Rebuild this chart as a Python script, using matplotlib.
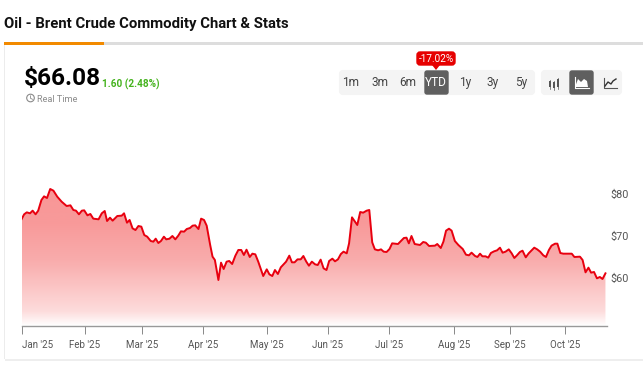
import numpy as np
import matplotlib.pyplot as plt
from matplotlib.colors import LinearSegmentedColormap
from matplotlib.patches import Circle, FancyBboxPatch, Polygon, Rectangle

plt.rcParams['font.family'] = ['Roboto', 'DejaVu Sans']

W, H = 643, 378

# sessions since 2 Jan and the close
sessions = [0, 0.9, 1.8, 2.9, 3.8, 4.8, 5.7, 6.8, 7.7, 8.7, 9.8, 10.9, 12.2, 13.7, 15.4, 16.7, 17.7, 18.6, 19.6, 20.6,
            21.4, 22.5, 23.5, 24.5, 26.3, 27.4, 28.4, 29.2, 30.2, 31.1, 32.7, 34.2, 35, 36, 36.9, 37.9, 38.9, 39.9, 40.9, 41.9,
            42.9, 44.1, 45, 45.8, 46.7, 47.6, 48.6, 49.4, 50.5, 51.5, 52.5, 53.5, 54.4, 55.5, 56.4, 57.5, 58.4, 59.3, 60.4, 61.3,
            62.3, 63.2, 64.4, 65.2, 66, 67.2, 68.1, 69, 70, 70.9, 71.9, 73, 74, 75, 75.9, 76.8, 77.9, 78.8, 79.8, 80.8,
            82.5, 83.7, 84.6, 85.6, 86.5, 87.5, 88.5, 90.3, 91.4, 92.3, 93.2, 94.2, 95.3, 96.2, 97.2, 98.1, 99.1, 100.2, 101.1, 102.1,
            103.1, 104.1, 105, 106.1, 107, 108, 109, 109.9, 111, 111.8, 112.8, 114.6, 115.6, 116.6, 117.8, 118.7, 119.7, 120.6, 121.7, 122.7,
            123.6, 124.6, 125.6, 126.5, 128.5, 129.6, 130.5, 131.4, 132.2, 133.1, 134.2, 136, 137.1, 138, 139.1, 141.1, 141.9, 143.1, 144, 144.9,
            145.9, 146.8, 147.9, 149.1, 150.6, 151.7, 152.7, 153.6, 154.8, 155.6, 156.5, 157.3, 158.4, 159.3, 160.2, 161.3, 162.3, 163.3, 164.2, 165.2,
            166.3, 167.3, 168.2, 169.2, 170.1, 171, 172.1, 173.1, 175, 176, 177, 178.1, 179, 180, 180.9, 182.1, 182.9, 183.9, 184.9, 187.8,
            188.7, 190.6, 191.5, 192.5, 193.5, 194.4, 195.4, 196.4, 197.4, 198.3, 199.3]
prices = [73.97, 75.16, 75.63, 75.4, 76.03, 75.16, 76.03, 78.57, 79.44, 79.04, 81.19, 80.79, 79.36, 78.17, 77.14, 77.3, 76.19, 76.03, 75.16, 76.03,
          76.11, 74.92, 75.24, 74.13, 73.97, 75.4, 75.95, 73.57, 74.36, 73.65, 74.76, 74.84, 75.4, 73.17, 73.81, 71.82, 71.42, 72.38, 72.22, 70.23,
          69.84, 68.81, 68.65, 69.36, 68.33, 68.81, 69.84, 69.2, 69.36, 70, 69.2, 70.08, 71.11, 71.03, 71.66, 71.9, 72.46, 72.54, 71.66, 74.13,
          73.81, 72.46, 67.85, 65.08, 64.29, 59.52, 63.65, 62.14, 63.89, 64.05, 63.33, 65.32, 66.67, 66.67, 65.48, 66.74, 65, 65.79, 65.63, 63.89,
          60.47, 62.06, 60.87, 60.47, 61.9, 60.95, 62.54, 63.89, 65.32, 63.73, 63.73, 64.44, 64.44, 65.24, 63.89, 62.93, 63.89, 63.25, 63.09, 64.37,
          62.3, 61.9, 64.05, 64.6, 63.97, 64.44, 65.71, 66.27, 65.87, 68.25, 74.44, 72.62, 75.71, 75.55, 76.03, 76.19, 68.49, 66.82, 66.59, 66.82,
          66.27, 66.19, 66.9, 68.25, 68.09, 68.89, 69.52, 69.6, 68.25, 70, 68.09, 67.86, 68.57, 68.41, 67.62, 67.7, 68.09, 67.14, 68.65, 71.27,
          71.74, 71.27, 68.81, 67.86, 66.9, 65.55, 65.4, 66.03, 65.24, 65, 65.79, 65.16, 65.16, 64.84, 65.95, 66.35, 66.58, 67.22, 66.03, 66.27,
          66.82, 65.87, 64.76, 65.47, 66.19, 66.5, 64.92, 65.87, 67.22, 66.82, 66.27, 65.39, 65, 66.66, 67.7, 68.17, 68.17, 65.95, 65.79, 65.79,
          65, 65.08, 64.29, 61.35, 62.46, 61.27, 61.43, 59.92, 60.24, 59.76, 61.11]

month_ticks = [0, 21.6, 41, 62.1, 83.7, 104.6, 125.3, 147.6, 166.6, 185.5]
month_labels = ["Jan '25", "Feb '25", "Mar '25", "Apr '25", "May '25", "Jun '25", "Jul '25", "Aug '25", "Sep '25", "Oct '25"]
price_ticks = [60, 70, 80]
price_labels = ['$60', '$70', '$80']
ranges = ['1m', '3m', '6m', 'YTD', '1y', '3y', '5y']
range_x = [351, 380, 408, 436, 465, 493, 521]

fig = plt.figure(figsize=(W / 100, H / 100), dpi=100)

# page furniture, in pixels
ui = fig.add_axes([0, 0, 1, 1])
ui.set_xlim(0, W)
ui.set_ylim(H, 0)
ui.axis('off')

ui.add_patch(Rectangle((5, 45), 638, 316, fc='#eeeeee', ec='none'))
ui.add_patch(Rectangle((4.5, 45), 638.5, 314, fc='white', ec='none'))
ui.add_patch(Rectangle((3.5, 45), 1, 314, fc='#ececec', ec='none'))
ui.add_patch(Rectangle((4, 42), 639, 3, fc='#dddddd', ec='none'))
ui.add_patch(Rectangle((4, 42), 100, 3, fc='#f28a00', ec='none'))

ui.text(3.5, 24, 'Oil - Brent Crude Commodity Chart & Stats', fontsize=10.7, fontweight='bold', color='#111111', va='center')
ui.text(24, 79, '$66.08', fontsize=17.6, fontweight='bold', color='black', va='center')
ui.text(102, 84.5, '1.60 (2.48%)', fontsize=7.2, fontweight='bold', color='#45b31e', va='center')
ui.text(37, 100, 'Real Time', fontsize=6.6, color='#8a8a8a', va='center')

# clock icon
ui.add_patch(Circle((30.5, 98), 3.8, fc='none', ec='#8a8a8a', lw=0.8))
ui.plot([30.5, 30.5, 32.5], [95.8, 98.3, 99.3], color='#8a8a8a', lw=0.6)

# range buttons
ui.add_patch(FancyBboxPatch((341, 72), 192, 21, boxstyle='round,pad=0,rounding_size=2', fc='#f4f4f4', ec='#f4f4f4', lw=3))
ui.add_patch(FancyBboxPatch((543, 72), 77, 21, boxstyle='round,pad=0,rounding_size=2', fc='#f4f4f4', ec='#f4f4f4', lw=3))
ui.add_patch(FancyBboxPatch((425, 71), 23, 23, boxstyle='round,pad=0,rounding_size=2', fc='#5f5f5f', ec='#5f5f5f', lw=1))
ui.add_patch(FancyBboxPatch((570, 71), 23, 23, boxstyle='round,pad=0,rounding_size=2', fc='#5f5f5f', ec='#5f5f5f', lw=1))
for r, x in zip(ranges, range_x):
    ui.text(x, 82.5, r, fontsize=8.6, ha='center', va='center', color='white' if r == 'YTD' else '#444444')

# tooltip above the active button
ui.add_patch(FancyBboxPatch((417, 52), 38, 13, boxstyle='round,pad=0,rounding_size=3', fc='#e60000', ec='#e60000', lw=1))
ui.add_patch(Polygon([[432, 65], [440, 65], [436, 70]], fc='#e60000', ec='none'))
ui.text(436, 58.5, '-17.02%', fontsize=7.2, color='white', ha='center', va='center')

# candle icon
for x, y0, y1 in [(550, 81, 87), (554, 82, 88), (557.5, 79, 87)]:
    ui.plot([x, x], [y0 - 1.5, y1 + 1.5], color='#555555', lw=0.5)
    ui.add_patch(Rectangle((x - 1, y0), 2, y1 - y0, fc='#555555', ec='none'))
# area icon
ui.add_patch(Polygon([[575, 87], [578, 79], [581, 82], [584, 79], [587, 81], [588, 87]], fc='white', ec='none'))
ui.plot([575, 575, 589], [77, 88, 88], color='white', lw=0.8)
# line icon
ui.plot([604, 604, 617], [78, 88, 88], color='#555555', lw=0.8)
ui.plot([605, 608, 611, 613, 616], [86, 82, 84, 81, 79], color='#333333', lw=1)

# chart
left, right, top, bottom = 21.5, 607, 180, 325.5
ax = fig.add_axes([left / W, 1 - bottom / H, (right - left) / W, (bottom - top) / H])
ax.patch.set_alpha(0)
y_low = 48.69
y_high = 83.33

cmap = LinearSegmentedColormap.from_list('fade', [(0, 'white'), (0.1, '#fddcdc'), (0.45, '#f9acac'), (0.7, '#f89a9a'), (1, '#f89696')])
grad = np.linspace(1, 0, 256).reshape(-1, 1)
img = ax.imshow(grad, extent=[0, 199.83, y_low, y_high], aspect='auto', cmap=cmap, vmin=0, vmax=1, zorder=1)
poly = ax.fill_between(sessions, prices, y_low, color='none')
img.set_clip_path(poly.get_paths()[0], transform=ax.transData)
ax.plot(sessions, prices, color='#e8000f', lw=1.4, zorder=2)

ax.set_xlim(0, 199.83)
ax.set_ylim(y_low, y_high)
ax.set_xticks(month_ticks)
ax.set_xticklabels(month_labels, fontsize=7, color='#555555')
ax.get_xticklabels()[0].set_ha('left')
ax.yaxis.tick_right()
ax.set_yticks(price_ticks)
ax.set_yticklabels(price_labels, fontsize=7.8, color='#555555')
ax.tick_params(axis='y', length=0, pad=2.5)
ax.tick_params(axis='x', length=5.8, width=0.7, color='#888888', pad=5)
for s in ['top', 'left', 'right']:
    ax.spines[s].set_visible(False)
ax.spines['bottom'].set_color('#999999')
ax.spines['bottom'].set_linewidth(1)

fig.savefig('out.png', dpi=100)
